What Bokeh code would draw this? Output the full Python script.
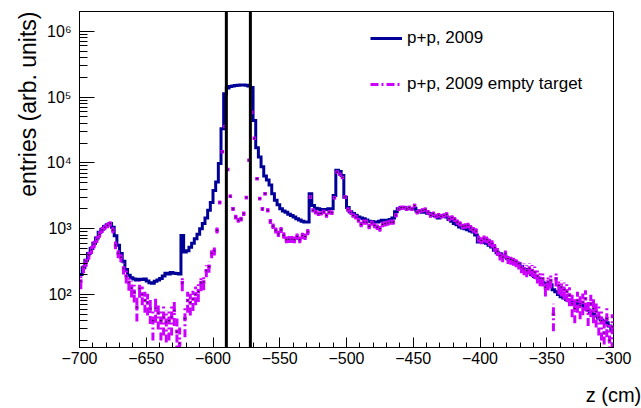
import numpy as np
from bokeh.plotting import figure
from bokeh.models import (Range1d, FixedTicker, SingleIntervalTicker, CustomJSTickFormatter,
                          Span, Legend, LegendItem, ColumnDataSource, Title)
from bokeh.embed import file_html
from bokeh.resources import INLINE

# ---------------- data ----------------
z_min, z_max, bin_width = -700, -300, 2

# p+p, 2009 (entries per 2 cm bin, bins from -700 to -300)
pp2009 = [
    200, 255, 330, 420, 500, 600, 720, 880, 980, 1080,
    1150, 1200, 1050, 780, 560, 420, 320, 240, 195, 180,
    172, 165, 170, 168, 172, 160, 150, 148, 158, 165,
    175, 190, 210, 205, 215, 210, 208, 205, 790, 440,
    460, 520, 600, 700, 820, 1000, 1200, 1450, 1900, 2500,
    3800, 5100, 9800, 33000, 112000, 138000, 145000, 148000, 150000, 151000,
    152000, 152000, 151000, 148000, 140000, 44000, 17000, 12300, 8700, 6300,
    5500, 4600, 3400, 2700, 2300, 2000, 1850, 1780, 1650, 1590,
    1500, 1420, 1350, 1300, 1260, 1260, 3400, 2250, 2050, 2000,
    1950, 1950, 1950, 2000, 2000, 3200, 7700, 7400, 6400, 3000,
    2100, 1800, 1700, 1600, 1500, 1450, 1420, 1350, 1300, 1280,
    1260, 1260, 1300, 1340, 1340, 1340, 1380, 1450, 1800, 2000,
    2090, 2090, 2050, 2000, 2000, 2050, 1860, 1800, 1780, 1780,
    1720, 1690, 1600, 1550, 1450, 1560, 1560, 1500, 1380, 1300,
    1200, 1150, 1060, 1020, 1000, 960, 920, 890, 800, 625,
    625, 620, 600, 560, 525, 470, 430, 415, 390, 370,
    350, 335, 310, 300, 293, 265, 240, 240, 215, 200,
    188, 180, 165, 150, 145, 140, 140, 118, 110, 100,
    92, 88, 84, 80, 76, 74, 72, 70, 68, 65,
    58, 54, 50, 47, 44, 41, 39, 37, 33, 29,
]

# p+p, 2009 empty target
pp2009_empty = [
    160, 260, 320, 400, 480, 580, 690, 820, 960, 1050,
    1120, 1190, 950, 560, 420, 370, 250, 190, 153, 125,
    108, 64, 124, 100, 81, 75, 60, 40, 62, 52,
    40, 45, 38, 40, 45, 57, 27, 18, 150, 43,
    81, 75, 85, 100, 110, 150, 155, 230, 265, 420,
    460, 940, 2500, 14700, 35600, 7900, 3100, 2000, 1500, 1340,
    1400, 1690, 2970, 11000, 59000, 23600, 5750, 2860, 2000, 3400,
    1900, 1290, 1090, 940, 835, 960, 790, 680, 690, 690,
    680, 760, 680, 780, 760, 890, 3030, 1900, 1780, 1690,
    1710, 1800, 1590, 1780, 1750, 2960, 7250, 6720, 6000, 3030,
    1950, 1780, 1590, 1500, 1340, 1160, 1260, 1260, 1080, 1220,
    1120, 1055, 1000, 1160, 1190, 1220, 1260, 1260, 1600, 2000,
    2090, 2090, 2000, 2090, 2000, 2250, 1780, 1860, 1900, 1950,
    1780, 1590, 1690, 1550, 1600, 1540, 1590, 1650, 1420, 1470,
    1380, 1260, 1190, 1080, 1100, 1120, 1030, 965, 920, 700,
    660, 700, 680, 625, 590, 515, 450, 390, 370, 415,
    350, 340, 330, 315, 293, 260, 245, 230, 250, 232,
    218, 190, 175, 173, 129, 154, 163, 50, 173, 137,
    129, 118, 110, 97, 72, 61, 81, 68, 76, 86,
    57, 72, 61, 55, 45, 40, 26, 43, 20, 32,
]
empty_counts_scale = 10.0  # arb. units per raw count, for Poisson error bars

cut_positions = [-590, -572]
series_labels = ["p+p, 2009", "p+p, 2009 empty target"]
x_title = "z (cm)"
y_title = "entries (arb. units)"
y_major_ticks = [1e2, 1e3, 1e4, 1e5, 1e6]
y_minor_ticks = [m * 10 ** k for k in range(1, 7) for m in range(2, 10)]
x_tick_step = 50
y_lo, y_hi = 15.6, 2.0e6

# ---------------- derived ----------------
edges = np.arange(z_min, z_max + bin_width, bin_width, dtype=float)
centers = edges[:-1] + bin_width / 2.0
blue_vals = np.array(pp2009, dtype=float)
mag_vals = np.array(pp2009_empty, dtype=float)
err = np.sqrt(mag_vals * empty_counts_scale)
lo = np.maximum(mag_vals - err, 1.0)
hi = mag_vals + err

BLUE = "#000099"
MAG = "#cc00ff"
FONT = "Liberation Sans"

p = figure(width=641, height=408, output_backend="svg", toolbar_location=None,
           x_range=Range1d(z_min, z_max), y_range=Range1d(y_lo, y_hi),
           y_axis_type="log",
           min_border_left=79, min_border_right=28, min_border_top=11, min_border_bottom=61)
p.background_fill_color = "white"
p.border_fill_color = "white"
p.outline_line_color = "black"
p.outline_line_width = 1
p.xgrid.visible = False
p.ygrid.visible = False

# histogram p+p 2009
step_y = np.append(blue_vals, blue_vals[-1])
blue_r = p.step(x=edges, y=step_y, mode="after", line_color=BLUE, line_width=3,
                line_join="miter")

# empty target: error bars + markers
src = ColumnDataSource(dict(x=centers, y=mag_vals, lo=lo, hi=hi))
err_r = p.segment(x0="x", y0="lo", x1="x", y1="hi", source=src, line_color=MAG,
                  line_width=3, line_dash="8 3 2 3")
p.scatter(x="x", y="y", source=src, marker="square", size=3.5, fill_color=MAG,
          line_color=None)
p.scatter(x="x", y="y", source=src, marker="square", size=1.2, fill_color="black",
          line_color=None)

for c in cut_positions:
    p.add_layout(Span(location=c, dimension="height", line_color="black", line_width=3))

# axes
xa = p.xaxis[0]
xa.ticker = SingleIntervalTicker(interval=x_tick_step, num_minor_ticks=5)
xa.formatter = CustomJSTickFormatter(
    code="return (tick < 0 ? '\u2212' : '') + Math.abs(tick).toFixed(0);")
ya = p.yaxis[0]
ya.ticker = FixedTicker(ticks=y_major_ticks, minor_ticks=y_minor_ticks)
ya.formatter = CustomJSTickFormatter(code="""
const sup = {'0':'\u2070','1':'\u00b9','2':'\u00b2','3':'\u00b3','4':'\u2074',
             '5':'\u2075','6':'\u2076','7':'\u2077','8':'\u2078','9':'\u2079','-':'\u207b'};
const e = Math.round(Math.log10(tick));
return '10' + String(e).split('').map(c => sup[c]).join('');
""")

for ax in (xa, ya):
    ax.axis_line_color = "black"
    ax.major_tick_line_color = "black"
    ax.minor_tick_line_color = "black"
    ax.major_tick_out = 0
    ax.minor_tick_out = 0
    ax.major_label_text_font = FONT
    ax.major_label_text_font_size = "16px"
    ax.major_label_text_color = "black"
    ax.axis_label_text_font = FONT
    ax.axis_label_text_font_style = "normal"
    ax.axis_label_text_color = "black"

xa.major_tick_in = 10
xa.minor_tick_in = 5
ya.major_tick_in = 15
ya.minor_tick_in = 8
xa.major_label_standoff = 4
ya.major_label_standoff = 8

xa.axis_label = x_title
xa.axis_label_text_font_size = "20px"
xa.axis_label_standoff = 17
if "axis_label_align" in xa.properties():
    xa.axis_label_align = "end"
    xa.axis_label_text_align = "right"

# y title, aligned to the top end of the axis (ROOT style)
ytitle = Title(text=y_title, align="right", text_font=FONT, text_font_size="23px",
               text_font_style="normal", text_color="black", standoff=6)
p.add_layout(ytitle, "left")

legend = Legend(items=[LegendItem(label=series_labels[0], renderers=[blue_r]),
                       LegendItem(label=series_labels[1], renderers=[err_r])],
                location=(291, 253), border_line_color=None, background_fill_alpha=0,
                padding=0, margin=0, spacing=26, glyph_width=32, glyph_height=20,
                label_height=20, label_standoff=5, label_text_font=FONT,
                label_text_font_size="17px", label_text_color="black")
p.add_layout(legend)

open("out.html", "w").write(file_html(p, INLINE))
